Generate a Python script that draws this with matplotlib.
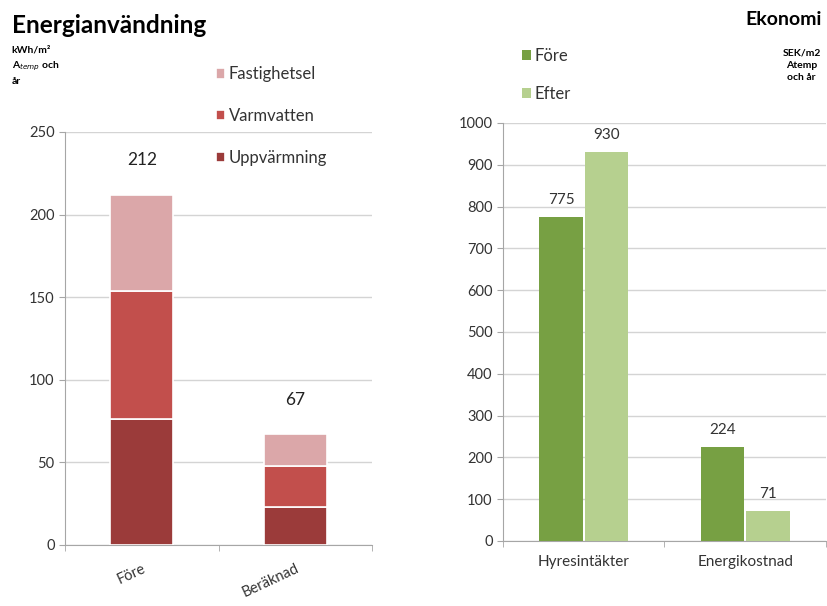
import matplotlib.pyplot as plt
import numpy as np

plt.rcParams['font.family'] = ['Lato', 'DejaVu Sans']

# Energianvändning (kWh/m2 Atemp och år)
energi_kat = ['Före', 'Beräknad']
uppvarmning = [76, 23]
varmvatten = [78, 25]
fastighetsel = [58, 19]
energi_totalt = [212, 67]

# Ekonomi (SEK/m2 Atemp och år)
ekonomi_kat = ['Hyresintäkter', 'Energikostnad']
fore = [775, 224]
efter = [930, 71]

c_upp = '#9B3B3A'
c_varm = '#C24F4C'
c_fast = '#DBA7A9'
c_fore = '#77A043'
c_efter = '#B6D08F'
grid_c = '#D4D4D4'
axis_c = '#A6A6A6'

fig = plt.figure(figsize=(8.28, 6.06), dpi=100)

# ---- left chart
ax1 = fig.add_axes([0.0785, 0.1007, 0.371, 0.6815])
x = np.arange(len(energi_kat))
w = 0.41
b1 = ax1.bar(x, uppvarmning, w, color=c_upp, edgecolor='white', linewidth=1.2, label='Uppvärmning', zorder=3)
b2 = ax1.bar(x, varmvatten, w, bottom=uppvarmning, color=c_varm, edgecolor='white', linewidth=1.2, label='Varmvatten', zorder=3)
bot = np.array(uppvarmning) + np.array(varmvatten)
b3 = ax1.bar(x, fastighetsel, w, bottom=bot, color=c_fast, edgecolor='white', linewidth=1.2, label='Fastighetsel', zorder=3)
for xi, t in zip(x, energi_totalt):
    ax1.text(xi, t + 16, str(t), ha='center', va='bottom', fontsize=12.5, color='#222222')
ax1.set_ylim(0, 250)
ax1.set_xlim(-0.5, 1.5)
ax1.set_yticks([0, 50, 100, 150, 200, 250])
ax1.set_xticks(x)
ax1.set_xticklabels(energi_kat, rotation=25, ha='right', rotation_mode='anchor', fontsize=10.5)
ax1.yaxis.grid(True, color=grid_c, linewidth=1)
ax1.set_axisbelow(True)
for s in ['top', 'right']:
    ax1.spines[s].set_visible(False)
ax1.spines['left'].set_color(axis_c)
ax1.spines['bottom'].set_color(axis_c)
ax1.tick_params(axis='y', colors='#333333', labelsize=10.5, length=4, color=axis_c)
ax1.tick_params(axis='x', colors='#333333', length=0, pad=12)
ax1.set_xticks([-0.5, 0.5, 1.5], minor=True)
ax1.tick_params(axis='x', which='minor', length=4, color=axis_c)
leg1 = ax1.legend(handles=[b3, b2, b1], loc='upper left', bbox_to_anchor=(0.47, 1.175),
                  frameon=False, fontsize=12, handlelength=0.55, handleheight=0.55,
                  handletextpad=0.2, labelspacing=1.55, borderaxespad=0)
for t in leg1.get_texts():
    t.set_color('#333333')

fig.text(0.014, 0.958, 'Energianvändning', fontsize=17.5, fontweight='bold', va='center')
fig.text(0.014, 0.925, 'kWh/m²\nA$_{temp}$ och\når', fontsize=7.5, fontweight='bold',
         va='top', linespacing=1.6)

# ---- right chart
ax2 = fig.add_axes([0.6075, 0.1073, 0.39, 0.6898])
x2 = np.arange(len(ekonomi_kat))
w2 = 0.27
r1 = ax2.bar(x2 - w2 / 2 - 0.005, fore, w2, color=c_fore, label='Före', zorder=3)
r2 = ax2.bar(x2 + w2 / 2 + 0.005, efter, w2, color=c_efter, label='Efter', zorder=3)
for rects, vals in [(r1, fore), (r2, efter)]:
    for r, v in zip(rects, vals):
        ax2.text(r.get_x() + r.get_width() / 2, v + 25, str(v), ha='center', va='bottom',
                 fontsize=11, color='#333333')
ax2.set_ylim(0, 1000)
ax2.set_xlim(-0.5, 1.5)
ax2.set_yticks(np.arange(0, 1001, 100))
ax2.set_xticks(x2)
ax2.set_xticklabels(ekonomi_kat, fontsize=11)
ax2.yaxis.grid(True, color=grid_c, linewidth=1)
ax2.set_axisbelow(True)
for s in ['top', 'right']:
    ax2.spines[s].set_visible(False)
ax2.spines['left'].set_color(axis_c)
ax2.spines['bottom'].set_color(axis_c)
ax2.tick_params(axis='y', colors='#333333', labelsize=10.5, length=4, color=axis_c)
ax2.tick_params(axis='x', colors='#333333', length=0, pad=10)
ax2.set_xticks([-0.5, 0.5, 1.5], minor=True)
ax2.tick_params(axis='x', which='minor', length=4, color=axis_c)
leg2 = ax2.legend(handles=[r1, r2], loc='upper left', bbox_to_anchor=(0.037, 1.195),
                  frameon=False, fontsize=12, handlelength=0.55, handleheight=0.55,
                  handletextpad=0.2, labelspacing=1.3, borderaxespad=0)
for t in leg2.get_texts():
    t.set_color('#333333')

fig.text(0.992, 0.968, 'Ekonomi', fontsize=14, fontweight='bold', ha='right', va='center')
fig.text(0.968, 0.92, 'SEK/m2\nAtemp\noch år', fontsize=7.5, fontweight='bold',
         ha='center', va='top', linespacing=1.5)

fig.savefig('out.png', dpi=100)
